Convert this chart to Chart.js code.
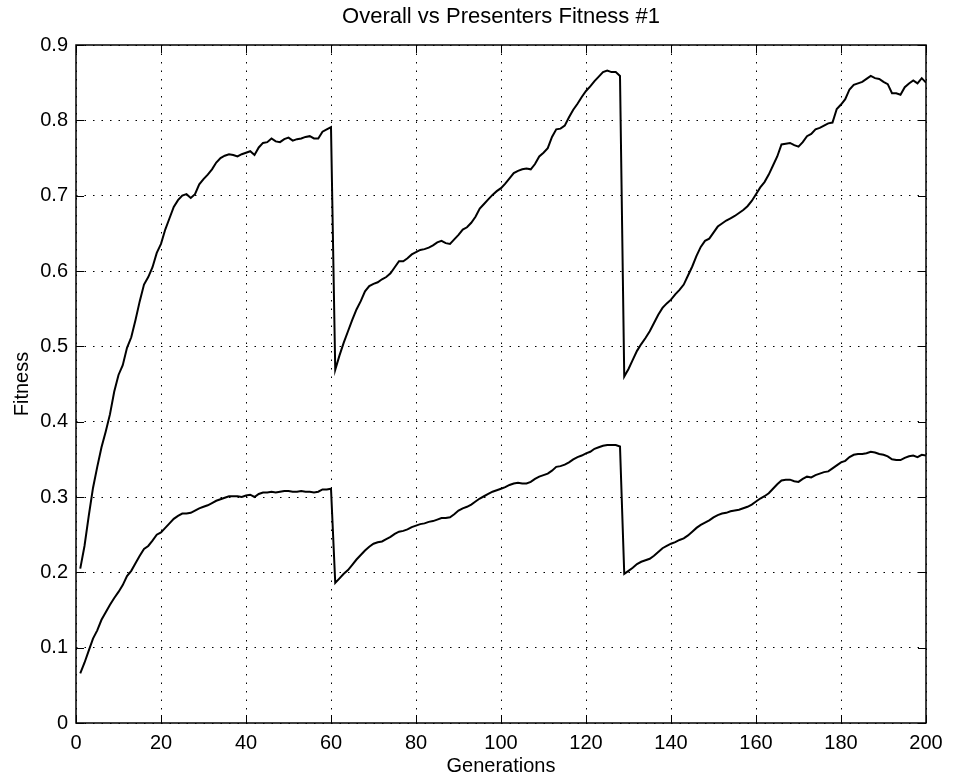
<!DOCTYPE html>
<html>
<head>
<meta charset="utf-8">
<title>Overall vs Presenters Fitness #1</title>
<script src="https://cdn.jsdelivr.net/npm/chart.js@4"></script>
<style>
  html, body { margin: 0; padding: 0; background: #fff; }
  canvas { display: block; }
</style>
</head>
<body>
<canvas id="fitnessChart" width="959" height="779"></canvas>
<script>
// generations 1..200
const generations = Array.from({ length: 200 }, (_, i) => i + 1);

// upper curve - overall fitness
const overallFitness = [
  0.205, 0.235, 0.275, 0.312, 0.340, 0.366, 0.387, 0.410, 0.440, 0.462,
  0.475, 0.498, 0.512, 0.535, 0.560, 0.582, 0.592, 0.605, 0.624, 0.636,
  0.655, 0.670, 0.685, 0.694, 0.700, 0.702, 0.697, 0.702, 0.715, 0.722,
  0.728, 0.735, 0.744, 0.750, 0.753, 0.755, 0.754, 0.752, 0.755, 0.757,
  0.759, 0.754, 0.764, 0.770, 0.771, 0.776, 0.772, 0.771, 0.775, 0.777,
  0.773, 0.775, 0.776, 0.778, 0.779, 0.776, 0.776, 0.785, 0.788, 0.791,
  0.469, 0.488, 0.505, 0.520, 0.535, 0.549, 0.560, 0.573, 0.580, 0.583,
  0.585, 0.589, 0.592, 0.597, 0.605, 0.613, 0.613, 0.617, 0.622, 0.625,
  0.628, 0.629, 0.631, 0.634, 0.638, 0.640, 0.637, 0.636, 0.642, 0.648,
  0.655, 0.658, 0.664, 0.672, 0.683, 0.689, 0.695, 0.701, 0.706, 0.710,
  0.716, 0.723, 0.730, 0.733, 0.735, 0.736, 0.735, 0.742, 0.752, 0.757,
  0.763, 0.778, 0.788, 0.789, 0.793, 0.804, 0.814, 0.822, 0.831, 0.839,
  0.845, 0.852, 0.858, 0.864, 0.866, 0.864, 0.864, 0.859, 0.460, 0.470,
  0.482, 0.494, 0.503, 0.511, 0.520, 0.531, 0.542, 0.551, 0.557, 0.562,
  0.569, 0.575, 0.582, 0.594, 0.606, 0.620, 0.632, 0.640, 0.643, 0.651,
  0.659, 0.663, 0.667, 0.670, 0.673, 0.677, 0.681, 0.686, 0.693, 0.702,
  0.711, 0.718, 0.728, 0.740, 0.752, 0.768, 0.769, 0.770, 0.767, 0.765,
  0.771, 0.779, 0.782, 0.788, 0.790, 0.793, 0.796, 0.797, 0.815, 0.821,
  0.828, 0.841, 0.847, 0.849, 0.851, 0.855, 0.859, 0.856, 0.855, 0.851,
  0.848, 0.836, 0.836, 0.834, 0.844, 0.849, 0.853, 0.849, 0.856, 0.850
];

// lower curve - presenters fitness
const presentersFitness = [
  0.066, 0.080, 0.096, 0.112, 0.123, 0.137, 0.147, 0.157, 0.166, 0.174,
  0.183, 0.195, 0.202, 0.212, 0.222, 0.231, 0.235, 0.242, 0.250, 0.253,
  0.259, 0.265, 0.271, 0.275, 0.278, 0.278, 0.279, 0.282, 0.285, 0.287,
  0.289, 0.292, 0.295, 0.297, 0.299, 0.301, 0.301, 0.301, 0.300, 0.302,
  0.303, 0.300, 0.304, 0.306, 0.306, 0.307, 0.306, 0.307, 0.308, 0.308,
  0.307, 0.307, 0.308, 0.307, 0.307, 0.306, 0.307, 0.310, 0.310, 0.311,
  0.186, 0.192, 0.198, 0.203, 0.210, 0.217, 0.223, 0.229, 0.234, 0.238,
  0.240, 0.241, 0.244, 0.247, 0.251, 0.254, 0.255, 0.257, 0.260, 0.262,
  0.264, 0.265, 0.267, 0.268, 0.270, 0.272, 0.272, 0.273, 0.277, 0.282,
  0.285, 0.287, 0.290, 0.294, 0.298, 0.301, 0.304, 0.307, 0.309, 0.311,
  0.313, 0.316, 0.318, 0.319, 0.318, 0.318, 0.320, 0.324, 0.327, 0.329,
  0.331, 0.335, 0.340, 0.341, 0.343, 0.346, 0.350, 0.353, 0.355, 0.358,
  0.360, 0.364, 0.366, 0.368, 0.369, 0.369, 0.369, 0.367, 0.198, 0.202,
  0.206, 0.211, 0.214, 0.216, 0.218, 0.222, 0.227, 0.232, 0.235, 0.238,
  0.240, 0.243, 0.245, 0.249, 0.254, 0.259, 0.263, 0.266, 0.269, 0.273,
  0.276, 0.278, 0.279, 0.281, 0.282, 0.283, 0.285, 0.287, 0.290, 0.294,
  0.298, 0.301, 0.305, 0.311, 0.317, 0.322, 0.323, 0.323, 0.321, 0.320,
  0.324, 0.327, 0.326, 0.329, 0.331, 0.333, 0.334, 0.338, 0.342, 0.346,
  0.348, 0.353, 0.356, 0.357, 0.357, 0.358, 0.360, 0.359, 0.357, 0.356,
  0.354, 0.350, 0.349, 0.349, 0.352, 0.354, 0.355, 0.353, 0.356, 0.355
];

const xTicks = [0, 20, 40, 60, 80, 100, 120, 140, 160, 180, 200];
const yTicks = [0, 0.1, 0.2, 0.3, 0.4, 0.5, 0.6, 0.7, 0.8, 0.9];

const FONT = "'Liberation Sans', Arial, Helvetica, sans-serif";
Chart.defaults.font.family = FONT;
Chart.defaults.color = "#000";

// matlab style box with inward ticks on all four sides
const boxPlugin = {
  id: "matlabBox",
  afterDraw(chart) {
    const { ctx, chartArea: a, scales } = chart;
    const len = 8;
    ctx.save();
    ctx.strokeStyle = "#000";
    ctx.lineWidth = 1.5;
    ctx.strokeRect(a.left, a.top, a.right - a.left, a.bottom - a.top);
    ctx.lineWidth = 1;
    ctx.beginPath();
    xTicks.forEach((v) => {
      const px = Math.round(scales.x.getPixelForValue(v)) + 0.5;
      ctx.moveTo(px, a.bottom);
      ctx.lineTo(px, a.bottom - len);
      ctx.moveTo(px, a.top);
      ctx.lineTo(px, a.top + len);
    });
    yTicks.forEach((v) => {
      const py = Math.round(scales.y.getPixelForValue(v)) + 0.5;
      ctx.moveTo(a.left, py);
      ctx.lineTo(a.left + len, py);
      ctx.moveTo(a.right, py);
      ctx.lineTo(a.right - len, py);
    });
    ctx.stroke();
    ctx.restore();
  },
};

const toPoints = (ys) => generations.map((g, i) => ({ x: g, y: ys[i] }));

new Chart(document.getElementById("fitnessChart"), {
  type: "line",
  data: {
    datasets: [
      {
        label: "Overall",
        data: toPoints(overallFitness),
        borderColor: "#000",
        borderWidth: 2,
        pointRadius: 0,
        tension: 0,
        fill: false,
      },
      {
        label: "Presenters",
        data: toPoints(presentersFitness),
        borderColor: "#000",
        borderWidth: 2,
        pointRadius: 0,
        tension: 0,
        fill: false,
      },
    ],
  },
  options: {
    responsive: false,
    animation: false,
    layout: { padding: { left: 0, right: 33, top: 0, bottom: 0 } },
    plugins: {
      legend: { display: false },
      tooltip: { enabled: false },
      title: {
        display: true,
        fullSize: false,
        text: "Overall vs Presenters Fitness #1",
        color: "#000",
        font: { size: 22, weight: "normal" },
        padding: { top: 4, bottom: 14.6 },
      },
    },
    scales: {
      x: {
        type: "linear",
        min: 0,
        max: 200,
        afterBuildTicks: (scale) => {
          scale.ticks = xTicks.map((v) => ({ value: v }));
        },
        afterFit: (scale) => {
          scale.height = 56;
        },
        ticks: { font: { size: 20 }, padding: 8, maxRotation: 0 },
        grid: { color: "#000", lineWidth: 1, drawTicks: false },
        border: { display: false, dash: [1.5, 7] },
        title: {
          display: true,
          text: "Generations",
          font: { size: 20 },
          padding: { top: 0, bottom: 1 },
        },
      },
      y: {
        min: 0,
        max: 0.9,
        afterBuildTicks: (scale) => {
          scale.ticks = yTicks.map((v) => ({ value: v }));
        },
        afterFit: (scale) => {
          scale.width = 76;
        },
        ticks: {
          font: { size: 20 },
          padding: 8,
          callback: (v) => (v === 0 ? "0" : v.toFixed(1)),
        },
        grid: { color: "#000", lineWidth: 1, drawTicks: false },
        border: { display: false, dash: [1.5, 7] },
        title: {
          display: true,
          text: "Fitness",
          font: { size: 20 },
          padding: { top: 10, bottom: 0 },
        },
      },
    },
  },
  plugins: [boxPlugin],
});
</script>
</body>
</html>
